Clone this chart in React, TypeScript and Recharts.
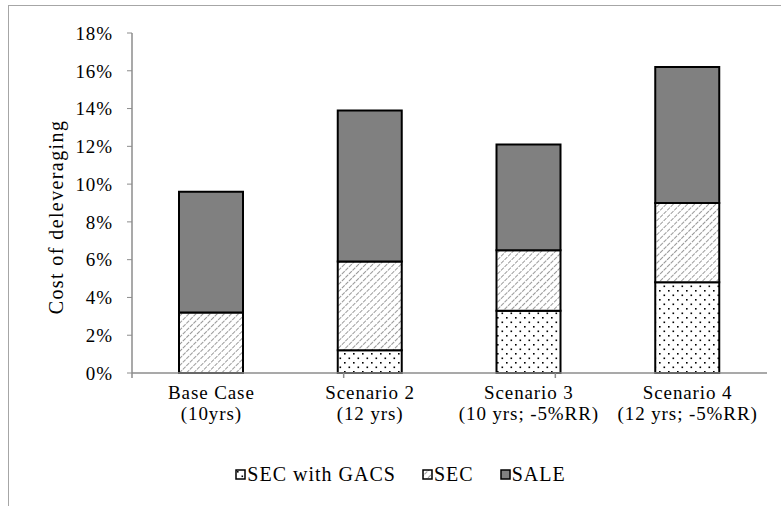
import { Bar, BarChart, Legend, XAxis, YAxis, Label } from 'recharts'

const scenarios = ['Base Case|(10yrs)', 'Scenario 2|(12 yrs)', 'Scenario 3|(10 yrs; -5%RR)', 'Scenario 4|(12 yrs; -5%RR)']
const secWithGacs = [0, 1.2, 3.3, 4.8]
const sec = [3.2, 4.7, 3.2, 4.2]
const sale = [6.4, 8.0, 5.6, 7.2]
const yTicks = [0, 2, 4, 6, 8, 10, 12, 14, 16, 18]
const boundaryTicks = [0, 1, 2, 3, 4]

const data = scenarios.map((name, i) => ({
  name,
  gacs: secWithGacs[i],
  sec: sec[i],
  sale: sale[i]
}))

const font = "'Liberation Serif', 'Times New Roman', Times, 'DejaVu Serif', serif"
const spacing = 0.9

function CategoryTick(props: any) {
  const { x, y, payload } = props
  const [l1, l2] = String(payload.value).split('|')
  return (
    <text x={x} y={y} textAnchor="middle" fontFamily={font} fontSize={19} letterSpacing={spacing} fill="#000">
      <tspan x={x} dy={17}>{l1}</tspan>
      <tspan x={x} dy={21}>{l2}</tspan>
    </text>
  )
}

function YTitle(props: any) {
  const { viewBox } = props
  const cx = 63
  const cy = viewBox.y + viewBox.height / 2 + 14
  return (
    <text x={cx} y={cy} transform={`rotate(-90 ${cx} ${cy})`} textAnchor="middle" fontFamily={font} fontSize={20} letterSpacing={1.4} fill="#000">
      Cost of deleveraging
    </text>
  )
}

const legendItems = [
  { label: 'SEC with GACS', fill: 'url(#dots)' },
  { label: 'SEC', fill: 'url(#hatch)' },
  { label: 'SALE', fill: '#808080' }
]

function LegendBox() {
  return (
    <div style={{ height: 24, display: 'flex', justifyContent: 'center', alignItems: 'center', fontFamily: font, fontSize: 20, letterSpacing: 1, paddingLeft: 60 }}>
      {legendItems.map((it) => (
        <div key={it.label} style={{ display: 'flex', alignItems: 'center', marginRight: 26 }}>
          <svg width={11} height={11} style={{ marginRight: 1 }}>
            <rect x={1} y={1} width={9} height={9} fill={it.fill} stroke="#000" strokeWidth={1.5} />
          </svg>
          <span>{it.label}</span>
        </div>
      ))}
    </div>
  )
}

const NoTick = () => <g />

export default function App() {
  return (
    <div style={{ position: 'absolute', left: 0, top: 0, width: 781, height: 506, overflow: 'hidden', background: '#fff' }}>
      <div style={{ position: 'absolute', left: 8, top: 5, width: 900, height: 700, border: '1.5px solid #a6a6a6' }} />
      <div style={{ position: 'absolute', left: 0, top: 0 }}>
        <BarChart width={781} height={506} data={data} margin={{ top: 33, right: 14, left: 0, bottom: 20 }} barSize={64}>
          <defs>
            <pattern id="dots" width="9" height="9" patternUnits="userSpaceOnUse">
              <rect width="9" height="9" fill="#fff" />
              <rect x="2" y="2" width="1.6" height="1.6" fill="#000" />
              <rect x="6.5" y="6.5" width="1.6" height="1.6" fill="#000" />
            </pattern>
            <pattern id="hatch" width="5" height="5" patternUnits="userSpaceOnUse" patternTransform="rotate(45)">
              <rect width="5" height="5" fill="#fff" />
              <line x1="0" y1="0" x2="0" y2="5" stroke="#9a9a9a" strokeWidth="2" strokeDasharray="2 1" />
            </pattern>
          </defs>
          {/* boundary ticks between categories, kept closest to the plot */}
          <XAxis
            xAxisId={0}
            type="number"
            domain={[0, 4]}
            ticks={boundaryTicks}
            height={1}
            tick={<NoTick />}
            tickLine={{ stroke: '#8c8c8c', strokeWidth: 1.5 }}
            tickSize={5}
            axisLine={{ stroke: '#8c8c8c', strokeWidth: 1.5 }}
          />
          <XAxis
            xAxisId={1}
            dataKey="name"
            height={88}
            tick={<CategoryTick />}
            tickLine={false}
            axisLine={false}
            interval={0}
          />
          <YAxis
            width={132}
            domain={[0, 18]}
            ticks={yTicks}
            tickFormatter={(v: number) => `${v}%`}
            tick={{ fontFamily: font, fontSize: 19, fill: '#000', letterSpacing: spacing }}
            tickLine={{ stroke: '#8c8c8c' }}
            tickSize={5}
            tickMargin={14}
            axisLine={{ stroke: '#8c8c8c', strokeWidth: 1.5 }}
          >
            <Label content={<YTitle />} />
          </YAxis>
          <Legend verticalAlign="bottom" content={<LegendBox />} />
          <Bar xAxisId={1} dataKey="gacs" name="SEC with GACS" stackId="a" fill="url(#dots)" stroke="#000" strokeWidth={2} isAnimationActive={false} />
          <Bar xAxisId={1} dataKey="sec" name="SEC" stackId="a" fill="url(#hatch)" stroke="#000" strokeWidth={2} isAnimationActive={false} />
          <Bar xAxisId={1} dataKey="sale" name="SALE" stackId="a" fill="#808080" stroke="#000" strokeWidth={2} isAnimationActive={false} />
        </BarChart>
      </div>
    </div>
  )
}
